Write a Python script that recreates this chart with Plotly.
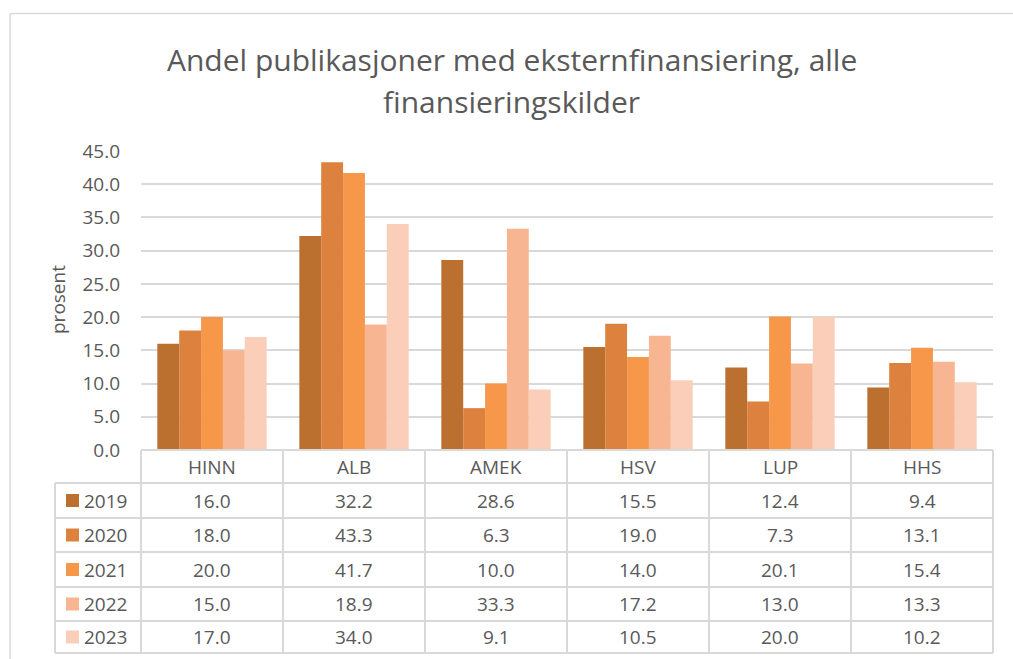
import plotly.graph_objects as go

# Chart data
CATEGORIES = ["HINN", "ALB", "AMEK", "HSV", "LUP", "HHS"]
YEARS = ["2019", "2020", "2021", "2022", "2023"]
VALUES = {
    "2019": [16.0, 32.2, 28.6, 15.5, 12.4, 9.4],
    "2020": [18.0, 43.3, 6.3, 19.0, 7.3, 13.1],
    "2021": [20.0, 41.7, 10.0, 14.0, 20.1, 15.4],
    "2022": [15.0, 18.9, 33.3, 17.2, 13.0, 13.3],
    "2023": [17.0, 34.0, 9.1, 10.5, 20.0, 10.2],
}
Y_TICKS = [0, 5, 10, 15, 20, 25, 30, 35, 40, 45]

YEAR_COLORS = {
    "2019": "#BC7030",
    "2020": "#DC823E",
    "2021": "#F6974A",
    "2022": "#F8B591",
    "2023": "#FBCEB9",
}

W, H = 1013, 659
FONT = "Open Sans"
TEXT_COLOR = "#595959"
GRID_COLOR = "#D9D9D9"


def px(x):
    return x / W


def py(y):
    return 1 - y / H


# Pixel layout of the plot area and data table
TABLE_LEFT = 55
COL_LEFT = 141
COL_RIGHT = 993
HEADER_TOP = 450
ROW_LINES = [483, 518, 552, 587, 621, 653]
PLOT_TOP = 151

fig = go.Figure()

for year in YEARS:
    fig.add_trace(go.Bar(
        x=CATEGORIES,
        y=VALUES[year],
        name=year,
        marker=dict(color=YEAR_COLORS[year], line=dict(width=0)),
        showlegend=False,
        hovertemplate=f"{year}<br>%{{x}}: %{{y:.1f}}<extra></extra>",
    ))

shapes = []
annotations = []


def label(x, y, text, size=19, xanchor="center", angle=0):
    annotations.append(dict(x=px(x), y=py(y), xref="paper", yref="paper",
                            text=text, showarrow=False, textangle=angle,
                            xanchor=xanchor, yanchor="middle",
                            font=dict(family=FONT, size=size, color=TEXT_COLOR)))


# outer chart border (only top and left edges are visible)
shapes.append(dict(type="line", xref="paper", yref="paper",
                   x0=px(10), x1=px(1030), y0=py(13.5), y1=py(13.5),
                   line=dict(color=GRID_COLOR, width=1.5)))
shapes.append(dict(type="line", xref="paper", yref="paper",
                   x0=px(10), x1=px(10), y0=py(13.5), y1=py(700),
                   line=dict(color=GRID_COLOR, width=1.5)))

# data table grid
n = len(CATEGORIES)
col_w = (COL_RIGHT - COL_LEFT) / n
line_style = dict(color=GRID_COLOR, width=2)
shapes.append(dict(type="line", xref="paper", yref="paper",
                   x0=px(COL_LEFT), x1=px(COL_RIGHT), y0=py(HEADER_TOP), y1=py(HEADER_TOP),
                   line=line_style))
for yl in ROW_LINES:
    shapes.append(dict(type="line", xref="paper", yref="paper",
                       x0=px(TABLE_LEFT), x1=px(COL_RIGHT), y0=py(yl), y1=py(yl),
                       line=line_style))
shapes.append(dict(type="line", xref="paper", yref="paper",
                   x0=px(TABLE_LEFT), x1=px(TABLE_LEFT), y0=py(ROW_LINES[0]), y1=py(ROW_LINES[-1]),
                   line=line_style))
for k in range(n + 1):
    xl = COL_LEFT + k * col_w
    shapes.append(dict(type="line", xref="paper", yref="paper",
                       x0=px(xl), x1=px(xl), y0=py(HEADER_TOP), y1=py(ROW_LINES[-1]),
                       line=line_style))

# header labels
for k, cat in enumerate(CATEGORIES):
    label(COL_LEFT + (k + 0.5) * col_w, (HEADER_TOP + ROW_LINES[0]) / 2, cat)

# rows: legend key + values
for r, year in enumerate(YEARS):
    yc = (ROW_LINES[r] + ROW_LINES[r + 1]) / 2
    shapes.append(dict(type="rect", xref="paper", yref="paper",
                       x0=px(66), x1=px(79), y0=py(yc + 6.5), y1=py(yc - 6.5),
                       fillcolor=YEAR_COLORS[year], line=dict(width=0)))
    label(82, yc, year, xanchor="left")
    for k, v in enumerate(VALUES[year]):
        label(COL_LEFT + (k + 0.5) * col_w, yc, f"{v:.1f}")

# title (two centered lines)
label(512, 59, "Andel publikasjoner med eksternfinansiering, alle", size=30)
label(512, 101, "finansieringskilder", size=30)

# y axis title
label(58, 300, "prosent", angle=-90)

fig.update_layout(
    template="none",
    width=W,
    height=H,
    margin=dict(l=0, r=0, t=0, b=0),
    paper_bgcolor="white",
    plot_bgcolor="white",
    barmode="group",
    bargap=0.23,
    bargroupgap=0,
    font=dict(family=FONT, color=TEXT_COLOR),
    shapes=shapes,
    annotations=annotations,
    xaxis=dict(
        domain=[px(COL_LEFT), px(COL_RIGHT)],
        showticklabels=False,
        showgrid=False,
        showline=False,
        zeroline=False,
        automargin=False,
        fixedrange=True,
    ),
    yaxis=dict(
        domain=[py(HEADER_TOP), py(PLOT_TOP)],
        range=[0, 45],
        tickvals=Y_TICKS,
        tickformat=".1f",
        showgrid=True,
        gridcolor=GRID_COLOR,
        gridwidth=1.5,
        zeroline=False,
        showline=False,
        ticks="",
        automargin=False,
        ticklabelstandoff=20,
        tickfont=dict(family=FONT, size=19, color=TEXT_COLOR),
        fixedrange=True,
    ),
)

# drop the default 8px body margin so the figure fills the window exactly
fig.write_html("out.html", config={"displayModeBar": False},
               post_script="document.body.style.margin='0';document.body.style.overflow='hidden';")
